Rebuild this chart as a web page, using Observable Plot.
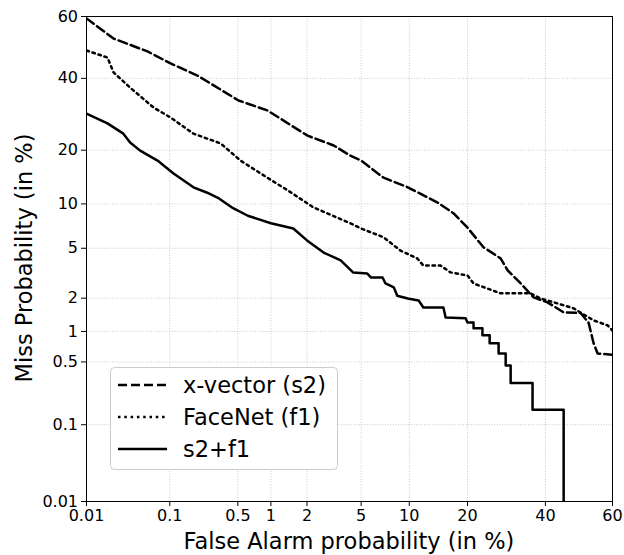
<!DOCTYPE html>
<html><head><meta charset="utf-8">
<script src="https://cdn.jsdelivr.net/npm/d3@7"></script>
<script src="https://cdn.jsdelivr.net/npm/@observablehq/plot@0.6"></script>
<style>
body{margin:0;background:#fff;}
#wrap{position:relative;width:624px;height:555px;font-family:"DejaVu Sans",sans-serif;color:#000;overflow:hidden;}
.lab{position:absolute;font-size:22.5px;line-height:26px;text-align:center;white-space:nowrap;}
#xlab{left:86px;width:526px;top:528px;}
#ylab{left:-126.5px;width:300px;top:245px;transform:rotate(-90deg);}
#legend{position:absolute;left:110px;top:367px;}
</style></head><body><div id="wrap"></div>
<script>
// ---- data (percent) ----
const tickValues = [0.01, 0.1, 0.5, 1, 2, 5, 10, 20, 40, 60];
const tickLabels = ["0.01", "0.1", "0.5", "1", "2", "5", "10", "20", "40", "60"];

const seriesNames = ["x-vector (s2)", "FaceNet (f1)", "s2+f1"];

const xvecFA   = [0.01, 0.022, 0.056, 0.102, 0.198, 0.507, 0.93, 2.02, 3.2, 4.2, 5.0, 7.0, 9.8, 14.3, 17.2, 20, 23.5, 27.7, 29.5, 33, 36.6, 40.6, 45.4, 50.5, 52.9, 54.4, 55.6, 60];
const xvecMiss = [59.4, 52.9, 48.7, 44.8, 40.9, 33.2, 30.3, 23.5, 21.1, 18.8, 17.7, 14.3, 12.6, 10.2, 8.7, 7.0, 5.1, 4.2, 3.4, 2.66, 2.03, 1.84, 1.50, 1.48, 1.21, 0.77, 0.61, 0.59];

const faceFA   = [0.01, 0.0185, 0.022, 0.035, 0.066, 0.102, 0.18, 0.34, 0.53, 0.93, 1.39, 2.25, 4.2, 5.0, 7.0, 8.9, 11.1, 12.0, 14.8, 16.6, 20, 21.3, 27.7, 35.7, 38.6, 43.6, 48.4, 54.4, 58.6, 60];
const faceMiss = [49, 46.7, 41.9, 37.1, 31.1, 28.3, 24.0, 21.6, 17.7, 14.3, 12.1, 9.5, 7.5, 6.9, 6.0, 4.8, 4.2, 3.7, 3.7, 3.27, 3.09, 2.66, 2.2, 2.2, 1.99, 1.80, 1.63, 1.27, 1.14, 1.02];

const fusFA   = [0.01, 0.0185, 0.029, 0.035, 0.046, 0.073, 0.11, 0.18, 0.25, 0.32, 0.45, 0.62, 1.0, 1.55, 2.0, 2.69, 3.6, 4.4, 5.5, 5.8, 6.9, 7.2, 8.1, 8.5, 9.8, 11.3, 12.0, 15.3, 15.7, 19.6, 20.0, 21.3, 21.3, 23.3, 23.3, 25.0, 25.0, 27.2, 27.2, 29.0, 29.0, 30.3, 30.3, 36.3, 36.3, 45.4, 45.4];
const fusMiss = [29.4, 26.7, 24.0, 21.8, 19.9, 17.7, 15.1, 12.6, 11.7, 10.9, 9.4, 8.4, 7.5, 6.9, 5.7, 4.65, 4.05, 3.27, 3.2, 2.98, 2.98, 2.66, 2.47, 2.1, 1.99, 1.91, 1.66, 1.66, 1.35, 1.33, 1.21, 1.21, 1.07, 1.07, 0.92, 0.92, 0.77, 0.77, 0.61, 0.61, 0.46, 0.46, 0.30, 0.30, 0.15, 0.15, 0.01];

// ---- probit (normal deviate) transform ----
function probit(p){
  const a=[-3.969683028665376e+01,2.209460984245205e+02,-2.759285104469687e+02,1.383577518672690e+02,-3.066479806614716e+01,2.506628277459239e+00];
  const b=[-5.447609879822406e+01,1.615858368580409e+02,-1.556989798598866e+02,6.680131188771972e+01,-1.328068155288572e+01];
  const c=[-7.784894002430293e-03,-3.223964580411365e-01,-2.400758277161838e+00,-2.549732539343734e+00,4.374664141464968e+00,2.938163982698783e+00];
  const d=[7.784695709041462e-03,3.224671290700398e-01,2.445134137142996e+00,3.754408661907416e+00];
  const pl=0.02425, ph=1-pl; let q,r;
  if(p<pl){q=Math.sqrt(-2*Math.log(p));return (((((c[0]*q+c[1])*q+c[2])*q+c[3])*q+c[4])*q+c[5])/((((d[0]*q+d[1])*q+d[2])*q+d[3])*q+1);}
  if(p<=ph){q=p-0.5;r=q*q;return (((((a[0]*r+a[1])*r+a[2])*r+a[3])*r+a[4])*r+a[5])*q/(((((b[0]*r+b[1])*r+b[2])*r+b[3])*r+b[4])*r+1);}
  q=Math.sqrt(-2*Math.log(1-p));return -(((((c[0]*q+c[1])*q+c[2])*q+c[3])*q+c[4])*q+c[5])/((((d[0]*q+d[1])*q+d[2])*q+d[3])*q+1);
}
const P = v => probit(v / 100);
const tickPos = tickValues.map(P);
const fmt = v => { const i = tickPos.findIndex(t => Math.abs(t - v) < 1e-9); return i >= 0 ? tickLabels[i] : ""; };

const rows = (fa, miss) => fa.map((f, i) => ({fa: f, miss: miss[i]}));
const xvec = rows(xvecFA, xvecMiss), face = rows(faceFA, faceMiss), fus = rows(fusFA, fusMiss);

const dashes = ["9,4", "2.5,3.8", null];

const gridStyle = {stroke: "#bdbdbd", strokeWidth: 0.8, strokeDasharray: "1,1.6"};

const chart = Plot.plot({
  width: 624, height: 555,
  marginLeft: 86, marginRight: 12, marginTop: 16, marginBottom: 54,
  style: {fontFamily: "'DejaVu Sans', sans-serif", fontSize: "16px", color: "black", background: "white"},
  x: {domain: [P(0.01), P(60)], ticks: tickPos, tickFormat: fmt, tickSize: 5, tickPadding: 3.5, label: null},
  y: {domain: [P(0.01), P(60)], ticks: tickPos, tickFormat: fmt, tickSize: 5, tickPadding: 3.5, label: null},
  marks: [
    Plot.ruleX(tickValues, {x: P, ...gridStyle}),
    Plot.ruleY(tickValues, {y: P, ...gridStyle}),
    Plot.line(xvec, {x: d => P(d.fa), y: d => P(d.miss), stroke: "black", strokeWidth: 2.5, strokeDasharray: dashes[0], clip: true}),
    Plot.line(face, {x: d => P(d.fa), y: d => P(d.miss), stroke: "black", strokeWidth: 2.5, strokeDasharray: dashes[1], clip: true}),
    Plot.line(fus, {x: d => P(d.fa), y: d => P(d.miss), stroke: "black", strokeWidth: 2.5, clip: true}),
    Plot.frame({stroke: "black", strokeWidth: 1})
  ]
});

const wrap = document.getElementById("wrap");
wrap.appendChild(chart);

const xl = document.createElement("div"); xl.className = "lab"; xl.id = "xlab"; xl.textContent = "False Alarm probability (in %)"; wrap.appendChild(xl);
const yl = document.createElement("div"); yl.className = "lab"; yl.id = "ylab"; yl.textContent = "Miss Probability (in %)"; wrap.appendChild(yl);

// legend
const ns = "http://www.w3.org/2000/svg";
const lg = document.createElementNS(ns, "svg");
lg.setAttribute("id", "legend"); lg.setAttribute("width", 229); lg.setAttribute("height", 104);
const box = document.createElementNS(ns, "rect");
Object.entries({x: 0.5, y: 0.5, width: 227, height: 102, rx: 4, fill: "rgba(255,255,255,0.85)", stroke: "#cccccc", "stroke-width": 1}).forEach(([k, v]) => box.setAttribute(k, v));
lg.appendChild(box);
seriesNames.forEach((name, i) => {
  const cy = 18 + i * 32;
  const ln = document.createElementNS(ns, "line");
  Object.entries({x1: 8, x2: 57, y1: cy, y2: cy, stroke: "black", "stroke-width": 2.5}).forEach(([k, v]) => ln.setAttribute(k, v));
  if (dashes[i]) ln.setAttribute("stroke-dasharray", dashes[i]);
  lg.appendChild(ln);
  const tx = document.createElementNS(ns, "text");
  Object.entries({x: 73, y: cy, "dominant-baseline": "central", "font-size": 22.5, "font-family": "DejaVu Sans, sans-serif", fill: "black"}).forEach(([k, v]) => tx.setAttribute(k, v));
  tx.textContent = name;
  lg.appendChild(tx);
});
wrap.appendChild(lg);
</script></body></html>
